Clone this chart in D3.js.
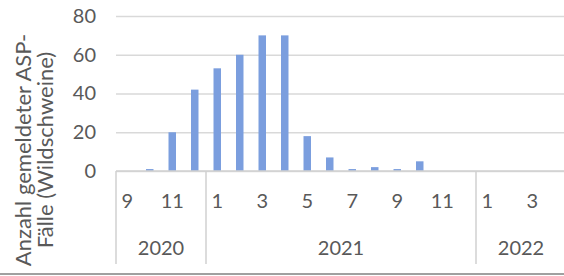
<!DOCTYPE html>
<html>
<head>
<meta charset="utf-8">
<script src="https://cdn.jsdelivr.net/npm/d3@7"></script>
<style>
  html, body { margin: 0; padding: 0; background: #ffffff; overflow: hidden; }
  svg { display: block; }
  text { font-family: Lato, "Open Sans", sans-serif; fill: #595959; }
</style>
</head>
<body>
<svg id="chart" width="564" height="276"></svg>
<script>
// ---- data ----
const years = ["2020", "2021", "2022"];
const months2020 = [9, 10, 11, 12];
const months2021 = [1, 2, 3, 4, 5, 6, 7, 8, 9, 10, 11, 12];
const months2022 = [1, 2, 3, 4];
const values2020 = [0, 1, 20, 42];
const values2021 = [53, 60, 70, 70, 18, 7, 1, 2, 1, 5, 0, 0];
const values2022 = [0, 0, 0, 0];
const yTicks = [0, 20, 40, 60, 80];
const yTitleLines = ["Anzahl gemeldeter ASP-", "Fälle (Wildschweine)"];

const monthsByYear = [months2020, months2021, months2022];
const valuesByYear = [values2020, values2021, values2022];
const rows = [];
years.forEach((yr, i) => {
  monthsByYear[i].forEach((m, j) => {
    rows.push({ key: yr + "-" + m, year: yr, month: m, value: valuesByYear[i][j] });
  });
});

// ---- layout ----
const svg = d3.select("#chart");
const plotLeft = 116, plotRight = 566, plotTop = 16, zeroY = 171;

const x = d3.scaleBand()
  .domain(rows.map(d => d.key))
  .range([plotLeft, plotRight])
  .paddingInner(0.667)
  .paddingOuter(0.3335);

const y = d3.scaleLinear().domain([0, 80]).range([zeroY, plotTop]);

// gridlines + y labels
const yAxis = d3.axisLeft(y).tickValues(yTicks).tickSize(-(plotRight - plotLeft)).tickPadding(20);
const gy = svg.append("g").attr("transform", `translate(${plotLeft},0)`).call(yAxis);
gy.select(".domain").remove();
gy.selectAll(".tick line").attr("stroke", "#d9d9d9").attr("stroke-width", 1.5);
gy.selectAll(".tick text")
  .attr("x", -20)
  .style("font-size", "20px")
  .style("font-family", "Lato, 'Open Sans', sans-serif")
  .attr("fill", "#595959");

// bars
svg.append("g").selectAll("rect").data(rows).join("rect")
  .attr("x", d => x(d.key))
  .attr("width", x.bandwidth())
  .attr("y", d => y(d.value))
  .attr("height", d => y(0) - y(d.value))
  .attr("fill", "#7b9ede");

// x axis (month labels, every other)
const shown = new Set();
rows.forEach((d, i) => { if (i % 2 === 0) shown.add(d.key); });
const xAxis = d3.axisBottom(x).tickSize(0).tickPadding(23)
  .tickFormat(k => shown.has(k) ? String(rows.find(r => r.key === k).month) : "");
const gx = svg.append("g").attr("transform", `translate(0,${zeroY})`).call(xAxis);
gx.select(".domain").remove();
gx.selectAll(".tick text")
  .style("font-size", "20px")
  .style("font-family", "Lato, 'Open Sans', sans-serif")
  .attr("fill", "#595959");

// zero line
svg.append("line")
  .attr("x1", plotLeft).attr("x2", plotRight)
  .attr("y1", y(0)).attr("y2", y(0))
  .attr("stroke", "#d0d0d0").attr("stroke-width", 1.5);

// year groups
const step = x.step();
const groups = years.map((yr) => {
  const keys = rows.filter(r => r.year === yr).map(r => r.key);
  const x0 = x(keys[0]) - x.paddingOuter() * step;
  const x1 = x(keys[keys.length - 1]) - x.paddingOuter() * step + step;
  return { year: yr, x0, x1 };
});
const sepXs = [groups[0].x0].concat(groups.map(g => g.x1));
svg.append("g").selectAll("line").data(sepXs).join("line")
  .attr("x1", d => d).attr("x2", d => d)
  .attr("y1", zeroY).attr("y2", 264)
  .attr("stroke", "#d0d0d0").attr("stroke-width", 1.5);

svg.append("g").selectAll("text").data(groups).join("text")
  .attr("x", d => (d.x0 + d.x1) / 2)
  .attr("y", 255)
  .attr("text-anchor", "middle")
  .style("font-size", "20px")
  .text(d => d.year);

// y title
const yt = svg.append("g").attr("transform", "translate(0,150) rotate(-90)");
yt.selectAll("text").data(yTitleLines).join("text")
  .attr("x", 0)
  .attr("y", (d, i) => 31 + i * 22)
  .attr("text-anchor", "middle")
  .style("font-size", "22px")
  .text(d => d);

// bottom border line
svg.append("line")
  .attr("x1", 0).attr("x2", 564)
  .attr("y1", 274).attr("y2", 274)
  .attr("stroke", "#a0a0a0").attr("stroke-width", 2);
</script>
</body>
</html>
